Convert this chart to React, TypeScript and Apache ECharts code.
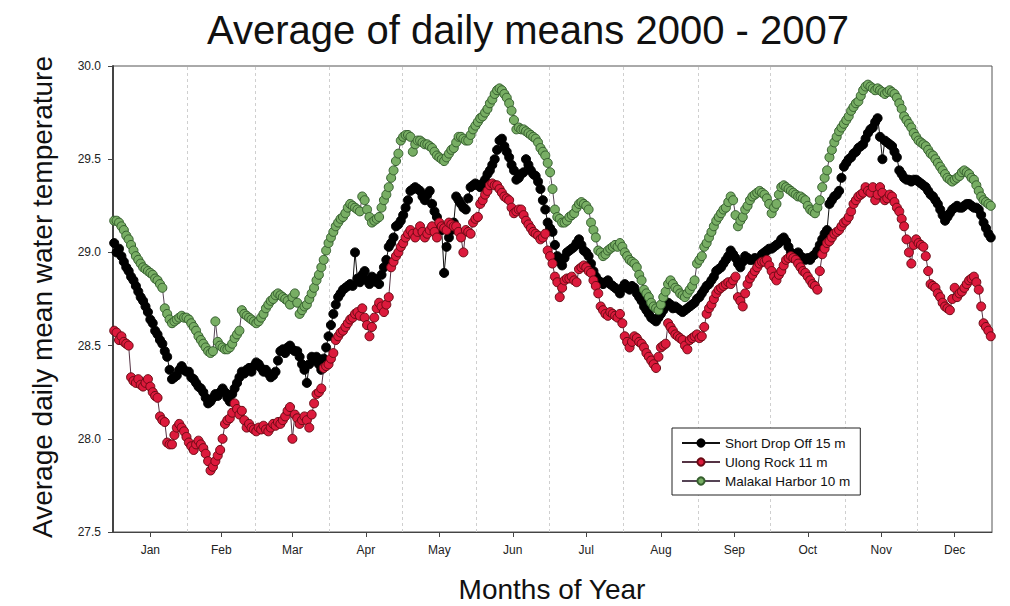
import React, { useEffect, useRef } from "react";
import * as echarts from "echarts";

const monthNames = ["Jan", "Feb", "Mar", "Apr", "May", "Jun", "Jul", "Aug", "Sep", "Oct", "Nov", "Dec"];
const monthMidDays = [15.5, 45, 74.5, 105, 135.5, 166, 196.5, 227.5, 258, 288.5, 319, 349.5];
const monthStartDays = [31, 59, 90, 120, 151, 181, 212, 243, 273, 304, 334];
const seriesNames = ["Short Drop Off 15 m", "Ulong Rock 11 m", "Malakal Harbor 10 m"];

const shortDropOff = [
  29.05, 29.00, 29.02, 28.98, 28.95, 28.92, 28.90, 28.87, 28.85, 28.82,
  28.79, 28.76, 28.74, 28.71, 28.68, 28.64, 28.62, 28.58, 28.56, 28.53,
  28.51, 28.47, 28.44, 28.37, 28.32, 28.33, 28.34, 28.37, 28.39, 28.37,
  28.36, 28.36, 28.33, 28.32, 28.30, 28.28, 28.27, 28.25, 28.22, 28.19,
  28.20, 28.22, 28.24, 28.23, 28.25, 28.27, 28.25, 28.22, 28.20, 28.24,
  28.27, 28.30, 28.33, 28.36, 28.35, 28.37, 28.38, 28.36, 28.39, 28.41,
  28.40, 28.38, 28.36, 28.37, 28.35, 28.33, 28.34, 28.36, 28.42, 28.47,
  28.48, 28.46, 28.49, 28.50, 28.48, 28.47, 28.47, 28.44, 28.40, 28.37,
  28.30, 28.40, 28.44, 28.42, 28.44, 28.40, 28.37, 28.43, 28.49, 28.55,
  28.61, 28.67, 28.72, 28.76, 28.78, 28.80, 28.81, 28.82, 28.83, 28.82,
  29.00, 28.86, 28.84, 28.88, 28.90, 28.85, 28.83, 28.87, 28.86, 28.84,
  28.83, 28.88, 28.92, 28.96, 29.03, 29.05, 29.08, 29.14, 29.15, 29.17,
  29.20, 29.24, 29.28, 29.33, 29.34, 29.35, 29.34, 29.33, 29.30, 29.28,
  29.31, 29.33, 29.26, 29.22, 29.19, 29.15, 29.12, 28.89, 29.03, 29.08,
  29.12, 29.16, 29.30, 29.28, 29.26, 29.24, 29.23, 29.29, 29.35, 29.36,
  29.37, 29.36, 29.35, 29.37, 29.39, 29.42, 29.44, 29.47, 29.50, 29.55,
  29.60, 29.61, 29.57, 29.54, 29.51, 29.47, 29.44, 29.39, 29.40, 29.42,
  29.43, 29.50, 29.47, 29.44, 29.42, 29.41, 29.38, 29.34, 29.28, 29.23,
  29.16, 29.13, 29.11, 29.04, 28.98, 28.95, 28.93, 28.97, 29.00, 29.01,
  29.02, 29.03, 29.05, 29.07, 29.04, 29.01, 29.00, 28.98, 28.94, 28.90,
  28.87, 28.85, 28.84, 28.83, 28.84, 28.85, 28.83, 28.82, 28.81, 28.80,
  28.78, 28.81, 28.83, 28.81, 28.80, 28.82, 28.81, 28.78, 28.76, 28.74,
  28.71, 28.69, 28.67, 28.65, 28.64, 28.63, 28.65, 28.67, 28.69, 28.71,
  28.73, 28.72, 28.70, 28.71, 28.70, 28.69, 28.68, 28.69, 28.70, 28.71,
  28.72, 28.73, 28.75, 28.76, 28.78, 28.80, 28.82, 28.83, 28.85, 28.87,
  28.90, 28.91, 28.92, 28.94, 28.96, 28.98, 29.01, 28.99, 28.97, 28.94,
  28.92, 28.95, 28.98, 28.97, 28.96, 28.96, 28.97, 28.95, 28.97, 28.99,
  29.00, 29.01, 29.02, 29.02, 29.03, 29.04, 29.05, 29.07, 29.08, 29.06,
  29.03, 29.00, 28.97, 28.99, 29.00, 28.98, 28.97, 28.96, 28.97, 28.96,
  28.98, 28.99, 29.01, 29.04, 29.07, 29.10, 29.12, 29.26, 29.28, 29.30,
  29.31, 29.33, 29.40, 29.46, 29.48, 29.50, 29.51, 29.53, 29.54, 29.56,
  29.57, 29.58, 29.61, 29.64, 29.66, 29.67, 29.70, 29.72, 29.62, 29.50,
  29.60, 29.59, 29.58, 29.57, 29.54, 29.51, 29.44, 29.42, 29.40, 29.39,
  29.39, 29.38, 29.39, 29.39, 29.38, 29.37, 29.36, 29.35, 29.33, 29.31,
  29.30, 29.28, 29.26, 29.23, 29.20, 29.17, 29.19, 29.21, 29.23, 29.24,
  29.25, 29.24, 29.24, 29.25, 29.26, 29.26, 29.25, 29.24, 29.24, 29.23,
  29.20, 29.16, 29.13, 29.10, 29.08,
];

const ulongRock = [
  28.58, 28.57, 28.53, 28.55, 28.52, 28.51, 28.50, 28.33, 28.31, 28.30,
  28.32, 28.29, 28.28, 28.30, 28.32, 28.28, 28.25, 28.23, 28.22, 28.12,
  28.10, 28.09, 27.98, 27.97, 27.97, 28.02, 28.06, 28.08, 28.06, 28.04,
  28.01, 27.98, 27.96, 27.94, 27.97, 27.99, 27.97, 27.95, 27.92, 27.88,
  27.83, 27.85, 27.88, 27.91, 27.94, 28.00, 28.08, 28.10, 28.11, 28.14,
  28.19, 28.16, 28.13, 28.15, 28.10, 28.06, 28.08, 28.06, 28.05, 28.04,
  28.06, 28.05, 28.07, 28.05, 28.04, 28.06, 28.08, 28.07, 28.09, 28.08,
  28.10, 28.12, 28.15, 28.17, 28.00, 28.13, 28.11, 28.08, 28.10, 28.12,
  28.10, 28.06, 28.13, 28.19, 28.24, 28.25, 28.27, 28.38, 28.39, 28.40,
  28.43, 28.46, 28.53, 28.55, 28.57, 28.58, 28.60, 28.62, 28.64, 28.65,
  28.67, 28.68, 28.66, 28.70, 28.65, 28.61, 28.55, 28.60, 28.65, 28.70,
  28.73, 28.71, 28.68, 28.72, 28.76, 28.92, 28.95, 28.98, 29.00, 29.03,
  29.05, 29.08, 29.10, 29.12, 29.10, 29.08, 29.11, 29.14, 29.11, 29.08,
  29.10, 29.12, 29.14, 29.11, 29.08, 29.16, 29.14, 29.13, 29.12, 29.16,
  29.15, 29.14, 29.14, 29.11, 29.08, 29.00, 29.12, 29.11, 29.10, 29.16,
  29.18, 29.19, 29.26, 29.28, 29.31, 29.33, 29.36, 29.37, 29.36, 29.36,
  29.34, 29.32, 29.30, 29.29, 29.28, 29.24, 29.21, 29.22, 29.23, 29.23,
  29.20, 29.17, 29.15, 29.13, 29.11, 29.10, 29.09, 29.07, 29.08, 29.10,
  29.01, 28.98, 28.94, 28.87, 28.84, 28.76, 28.81, 28.85, 28.86, 28.86,
  28.87, 28.85, 28.84, 28.91, 28.92, 28.93, 28.92, 28.90, 28.89, 28.85,
  28.82, 28.78, 28.71, 28.69, 28.67, 28.66, 28.68, 28.67, 28.66, 28.65,
  28.67, 28.62, 28.55, 28.52, 28.49, 28.52, 28.55, 28.54, 28.52, 28.51,
  28.49, 28.46, 28.44, 28.42, 28.40, 28.38, 28.44, 28.49, 28.50, 28.51,
  28.62, 28.60, 28.58, 28.56, 28.55, 28.54, 28.53, 28.50, 28.48, 28.53,
  28.54, 28.55, 28.56, 28.54, 28.55, 28.60, 28.67, 28.70, 28.72, 28.75,
  28.78, 28.80, 28.81, 28.82, 28.83, 28.84, 28.83, 28.85, 28.87, 28.76,
  28.74, 28.71, 28.78, 28.83, 28.86, 28.88, 28.90, 28.92, 28.94, 28.95,
  28.95, 28.96, 28.93, 28.90, 28.87, 28.85, 28.88, 28.90, 28.93, 28.96,
  28.97, 28.98, 28.97, 28.96, 28.94, 28.92, 28.90, 28.89, 28.87, 28.85,
  28.83, 28.82, 28.80, 28.90, 28.99, 29.02, 29.05, 29.06, 29.08, 29.10,
  29.11, 29.12, 29.14, 29.16, 29.17, 29.19, 29.22, 29.26, 29.28, 29.30,
  29.31, 29.32, 29.35, 29.33, 29.32, 29.35, 29.28, 29.31, 29.35, 29.32,
  29.28, 29.29, 29.31, 29.30, 29.27, 29.24, 29.22, 29.18, 29.14, 29.07,
  29.00, 28.94, 29.04, 29.07, 29.05, 29.04, 29.03, 28.98, 28.90, 28.83,
  28.82, 28.81, 28.78, 28.76, 28.73, 28.71, 28.70, 28.69, 28.75, 28.81,
  28.76, 28.78, 28.79, 28.81, 28.83, 28.85, 28.86, 28.87, 28.84, 28.80,
  28.71, 28.62, 28.60, 28.58, 28.55,
];

const malakalHarbor = [
  29.17, 29.17, 29.16, 29.14, 29.12, 29.09, 29.07, 29.04, 29.01, 28.98,
  28.96, 28.94, 28.92, 28.91, 28.90, 28.89, 28.88, 28.86, 28.85, 28.83,
  28.81, 28.70, 28.67, 28.64, 28.62, 28.63, 28.64, 28.65, 28.66, 28.65,
  28.65, 28.64, 28.62, 28.60, 28.58, 28.55, 28.53, 28.51, 28.49, 28.47,
  28.46, 28.47, 28.63, 28.52, 28.50, 28.49, 28.48, 28.48, 28.49, 28.51,
  28.54, 28.56, 28.58, 28.69, 28.67, 28.66, 28.65, 28.64, 28.63, 28.62,
  28.63, 28.65, 28.67, 28.70, 28.72, 28.74, 28.75, 28.77, 28.78, 28.77,
  28.76, 28.75, 28.74, 28.72, 28.76, 28.78, 28.73, 28.67, 28.69, 28.71,
  28.72, 28.75, 28.78, 28.81, 28.85, 28.88, 28.92, 28.96, 29.01, 29.05,
  29.08, 29.11, 29.14, 29.16, 29.18, 29.19, 29.21, 29.24, 29.26, 29.25,
  29.24, 29.23, 29.22, 29.30, 29.28, 29.23, 29.19, 29.16, 29.17, 29.18,
  29.19, 29.24, 29.28, 29.31, 29.35, 29.40, 29.44, 29.49, 29.53, 29.60,
  29.62, 29.63, 29.63, 29.62, 29.54, 29.58, 29.60, 29.60, 29.59, 29.58,
  29.58, 29.57, 29.56, 29.54, 29.52, 29.51, 29.50, 29.49, 29.51, 29.53,
  29.55, 29.56, 29.59, 29.62, 29.62, 29.61, 29.60, 29.60, 29.63, 29.66,
  29.68, 29.70, 29.72, 29.73, 29.75, 29.77, 29.80, 29.82, 29.85, 29.87,
  29.88, 29.87, 29.85, 29.83, 29.80, 29.76, 29.71, 29.66, 29.67, 29.66,
  29.66, 29.65, 29.64, 29.63, 29.62, 29.61, 29.59, 29.56, 29.54, 29.52,
  29.48, 29.43, 29.34, 29.23, 29.19, 29.18, 29.16, 29.16, 29.17, 29.19,
  29.20, 29.21, 29.24, 29.26, 29.27, 29.26, 29.25, 29.23, 29.16, 29.12,
  29.08, 29.01, 29.00, 28.98, 28.99, 29.01, 29.02, 29.03, 29.04, 29.03,
  29.05, 29.03, 29.00, 28.98, 28.96, 28.95, 28.94, 28.92, 28.88, 28.85,
  28.80, 28.78, 28.76, 28.73, 28.71, 28.70, 28.69, 28.72, 28.76, 28.79,
  28.83, 28.85, 28.83, 28.81, 28.80, 28.78, 28.77, 28.76, 28.78, 28.80,
  28.82, 28.85, 28.94, 28.96, 28.98, 29.03, 29.05, 29.08, 29.11, 29.14,
  29.17, 29.19, 29.21, 29.23, 29.24, 29.27, 29.30, 29.28, 29.20, 29.14,
  29.17, 29.19, 29.23, 29.25, 29.28, 29.30, 29.31, 29.32, 29.33, 29.32,
  29.31, 29.29, 29.26, 29.21, 29.24, 29.26, 29.31, 29.35, 29.36, 29.35,
  29.34, 29.33, 29.32, 29.31, 29.30, 29.30, 29.29, 29.28, 29.25, 29.23,
  29.22, 29.21, 29.24, 29.28, 29.35, 29.40, 29.44, 29.51, 29.55, 29.59,
  29.62, 29.65, 29.67, 29.69, 29.71, 29.73, 29.76, 29.78, 29.80, 29.81,
  29.84, 29.87, 29.89, 29.90, 29.89, 29.88, 29.87, 29.88, 29.87, 29.86,
  29.85, 29.86, 29.87, 29.86, 29.85, 29.83, 29.80, 29.77, 29.73, 29.71,
  29.69, 29.67, 29.64, 29.62, 29.60, 29.59, 29.58, 29.57, 29.55, 29.53,
  29.52, 29.50, 29.48, 29.46, 29.44, 29.42, 29.40, 29.39, 29.38, 29.39,
  29.40, 29.41, 29.43, 29.44, 29.43, 29.42, 29.40, 29.39, 29.36, 29.33,
  29.30, 29.28, 29.27, 29.26, 29.25,
];

const FONT = "'Liberation Sans', Arial, Helvetica, sans-serif";

const toPairs = (arr: number[]) => arr.map((v, i) => [i + 0.5, v]);

export default function App() {
  const ref = useRef<HTMLDivElement>(null);

  useEffect(() => {
    if (!ref.current) return;
    const chart = echarts.init(ref.current, undefined, { renderer: "svg" });

    const seriesStyles = [
      { data: shortDropOff, fill: "#000000", border: "#000000", line: "#111111" },
      { data: ulongRock, fill: "#dc1a3c", border: "#6a0a14", line: "#553344" },
      { data: malakalHarbor, fill: "#78ae64", border: "#355f2e", line: "#554455" },
    ];

    const option: any = {
      animation: false,
      backgroundColor: "#ffffff",
      grid: {
        left: 113,
        right: 18,
        top: 66,
        bottom: 74,
        show: true,
        borderColor: "#555",
        borderWidth: 1,
        backgroundColor: "transparent",
        containLabel: false,
        outerBoundsMode: "none",
      },
      legend: {
        orient: "vertical",
        left: 672,
        top: 428,
        itemWidth: 38,
        itemHeight: 9,
        itemGap: 5,
        padding: [8, 10, 7, 9],
        borderColor: "#222",
        borderWidth: 1,
        borderRadius: 0,
        backgroundColor: "#ffffff",
        textStyle: { fontSize: 13.5, color: "#111", fontFamily: FONT },
        data: seriesNames,
      },
      xAxis: {
        type: "value",
        min: 0,
        max: 365,
        axisLine: { show: true, lineStyle: { color: "#444", width: 1 } },
        axisTick: {
          show: true,
          customValues: monthMidDays,
          length: 5,
          lineStyle: { color: "#444" },
        },
        axisLabel: {
          customValues: monthMidDays,
          margin: 12,
          fontSize: 12,
          color: "#222",
          fontFamily: FONT,
          formatter: (v: number) => {
            const idx = monthMidDays.findIndex((m) => Math.abs(m - v) < 0.01);
            return idx >= 0 ? monthNames[idx] : "";
          },
        },
        splitLine: { show: false },
      },
      yAxis: {
        type: "value",
        min: 27.5,
        max: 30.0,
        interval: 0.5,
        axisLine: { show: true, lineStyle: { color: "#444", width: 2 } },
        axisTick: { show: true, length: 5, lineStyle: { color: "#444" } },
        axisLabel: {
          margin: 12,
          fontSize: 12,
          color: "#222",
          fontFamily: FONT,
          formatter: (v: number) => v.toFixed(1),
        },
        splitLine: { show: false },
      },
      graphic: [
        {
          type: "text",
          x: 528,
          y: 30,
          silent: true,
          style: {
            text: "Average of daily means 2000 - 2007",
            fontSize: 40,
            fontFamily: FONT,
            fill: "#111",
            align: "center",
            verticalAlign: "middle",
          },
        },
        {
          type: "text",
          x: 552,
          y: 589,
          silent: true,
          style: {
            text: "Months of Year",
            fontSize: 28,
            fontFamily: FONT,
            fill: "#111",
            align: "center",
            verticalAlign: "middle",
          },
        },
        {
          type: "text",
          x: 42,
          y: 297,
          rotation: Math.PI / 2,
          silent: true,
          style: {
            text: "Average daily mean water temperature",
            fontSize: 28,
            fontFamily: FONT,
            fill: "#111",
            align: "center",
            verticalAlign: "middle",
          },
        },
      ],
      series: seriesStyles.map((s, i) => ({
        name: seriesNames[i],
        type: "line",
        data: toPairs(s.data),
        symbol: "circle",
        symbolSize: 9,
        showSymbol: true,
        showAllSymbol: true,
        silent: true,
        lineStyle: { color: s.line, width: 1 },
        itemStyle: { color: s.fill, borderColor: s.border, borderWidth: 1 },
        z: 3 + i,
        markLine:
          i === 0
            ? {
                silent: true,
                symbol: ["none", "none"],
                label: { show: false },
                lineStyle: { color: "#cfcfcf", type: [3, 3], width: 1 },
                data: monthStartDays.map((d) => ({ xAxis: d })),
                z: 1,
              }
            : undefined,
      })),
    };

    chart.setOption(option);
    return () => chart.dispose();
  }, []);

  return (
    <div
      ref={ref}
      style={{ position: "fixed", left: 0, top: 0, width: 1010, height: 606, background: "#fff" }}
    />
  );
}
